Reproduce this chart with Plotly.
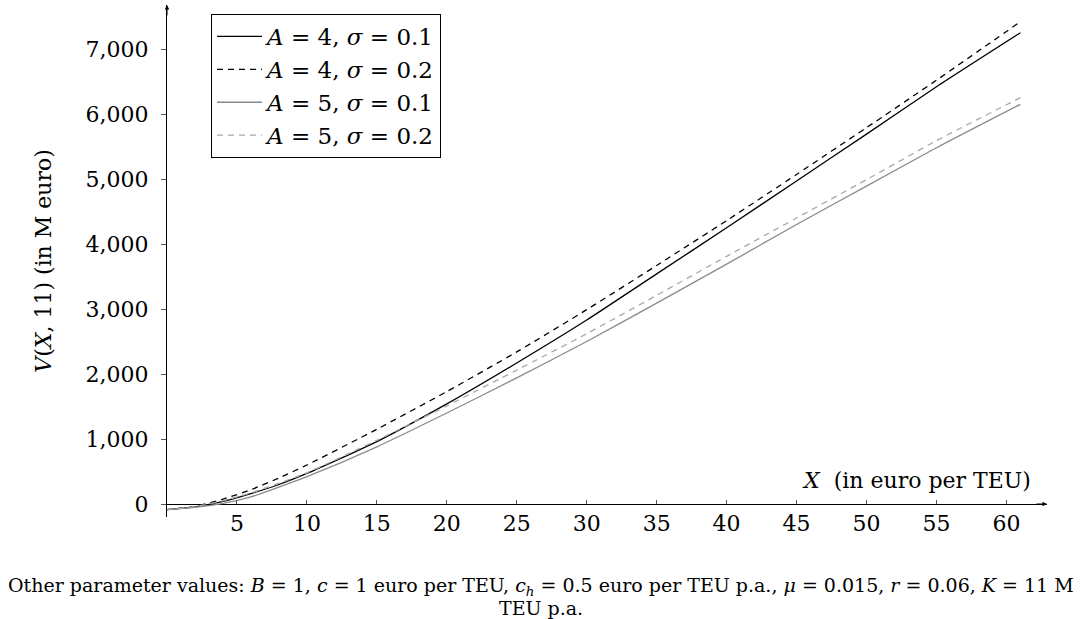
import plotly.graph_objects as go

# X values (euro per TEU)
x_vals = [0, 2, 4, 6, 8, 10, 15, 20, 25, 30, 35, 40, 45, 50, 55, 61]

# V(X, 11) in M euro, per parameter set
v_a4_s01 = [-85, -45, 40, 160, 300, 470, 960, 1540, 2170, 2830, 3540, 4250, 4970, 5690, 6420, 7251]
v_a4_s02 = [-85, -35, 75, 220, 400, 600, 1150, 1730, 2340, 2990, 3670, 4360, 5070, 5790, 6520, 7420]
v_a5_s01 = [-85, -50, 10, 110, 260, 420, 880, 1400, 1940, 2500, 3090, 3690, 4300, 4890, 5480, 6149]
v_a5_s02 = [-85, -40, 50, 170, 320, 480, 980, 1510, 2060, 2620, 3210, 3810, 4400, 4990, 5590, 6251]

series_names = [
    "<i>A</i> = 4, <i>σ</i> = 0.1",
    "<i>A</i> = 4, <i>σ</i> = 0.2",
    "<i>A</i> = 5, <i>σ</i> = 0.1",
    "<i>A</i> = 5, <i>σ</i> = 0.2",
]
series_values = [v_a4_s01, v_a4_s02, v_a5_s01, v_a5_s02]
series_colors = ["black", "black", "#8a8a8a", "#a8a8a8"]
series_dash = ["solid", "6px,5px", "solid", "6px,5px"]

y_ticks = [0, 1000, 2000, 3000, 4000, 5000, 6000, 7000]
x_ticks = [5, 10, 15, 20, 25, 30, 35, 40, 45, 50, 55, 60]

caption_line1 = ("Other parameter values: <i>B</i> = 1, <i>c</i> = 1 euro per TEU, "
                 "<i>c<sub>h</sub></i> = 0.5 euro per TEU p.a., <i>μ</i> = 0.015, "
                 "<i>r</i> = 0.06, <i>K</i> = 11 M")
caption_line2 = "TEU p.a."

FONT = "DejaVu Serif"
FS = 22

fig = go.Figure()
for name, vals, col, dash in zip(series_names, series_values, series_colors, series_dash):
    fig.add_trace(go.Scatter(
        x=x_vals, y=vals, mode="lines", name=name,
        line=dict(color=col, width=1.3, dash=dash, shape="spline", smoothing=0.6),
    ))

X_MAX = 62.9
Y_MIN, Y_MAX = -200, 7677
zero_pos = (0 - Y_MIN) / (Y_MAX - Y_MIN)

def py(p):
    return (517 - p) / 512

def px(p):
    return (p - 167) / 880

fig.update_layout(
    width=1081, height=619,
    margin=dict(l=167, r=34, t=5, b=102, autoexpand=False),
    paper_bgcolor="white", plot_bgcolor="white",
    font=dict(family=FONT, size=FS, color="black"),
    showlegend=True,
    legend=dict(
        x=px(211), y=py(14), xanchor="left", yanchor="top",
        bordercolor="black", borderwidth=1, bgcolor="white",
        font=dict(family=FONT, size=23), itemwidth=45,
        tracegroupgap=0,
    ),
    xaxis=dict(
        range=[0, X_MAX], tickvals=x_ticks, showgrid=False, zeroline=False,
        showline=False, anchor="free", position=zero_pos, automargin=False,
        ticks="inside", ticklen=4, tickcolor="#555", tickwidth=1,
        ticklabelstandoff=4,
        tickfont=dict(family=FONT, size=FS),
    ),
    yaxis=dict(
        range=[Y_MIN, Y_MAX], tickvals=y_ticks, tickformat=",", showgrid=False,
        zeroline=True, zerolinecolor="black", zerolinewidth=1, automargin=False,
        showline=True, linecolor="black", linewidth=1,
        ticks="outside", ticklen=5, tickcolor="#555", tickwidth=1,
        ticklabelstandoff=8,
        tickfont=dict(family=FONT, size=FS),
        title=dict(text="<i>V</i>(<i>X</i>, 11) (in M euro)", standoff=27,
                   font=dict(family=FONT, size=FS)),
    ),
)

# axis arrows
fig.add_annotation(x=X_MAX, y=0, xref="x", yref="y", ax=-12, ay=0, text="",
                   showarrow=True, arrowhead=2, arrowsize=0.9, arrowwidth=1, arrowcolor="black")
fig.add_annotation(x=0, y=Y_MAX, xref="x", yref="y", ax=0, ay=12, text="",
                   showarrow=True, arrowhead=2, arrowsize=0.9, arrowwidth=1, arrowcolor="black")

# x-axis title
fig.add_annotation(x=px(1033), y=py(480), xref="paper", yref="paper",
                   xanchor="right", yanchor="middle", showarrow=False,
                   text="<i>X</i>  (in euro per TEU)", font=dict(family=FONT, size=FS))

# caption
fig.add_annotation(x=px(541), y=py(586), xref="paper", yref="paper",
                   xanchor="center", yanchor="middle", showarrow=False,
                   text=caption_line1, font=dict(family=FONT, size=19))
fig.add_annotation(x=px(541), y=py(608), xref="paper", yref="paper",
                   xanchor="center", yanchor="middle", showarrow=False,
                   text=caption_line2, font=dict(family=FONT, size=19))

fig.write_html("out.html", config={"displayModeBar": False},
               post_script="document.body.style.margin='0px';")
